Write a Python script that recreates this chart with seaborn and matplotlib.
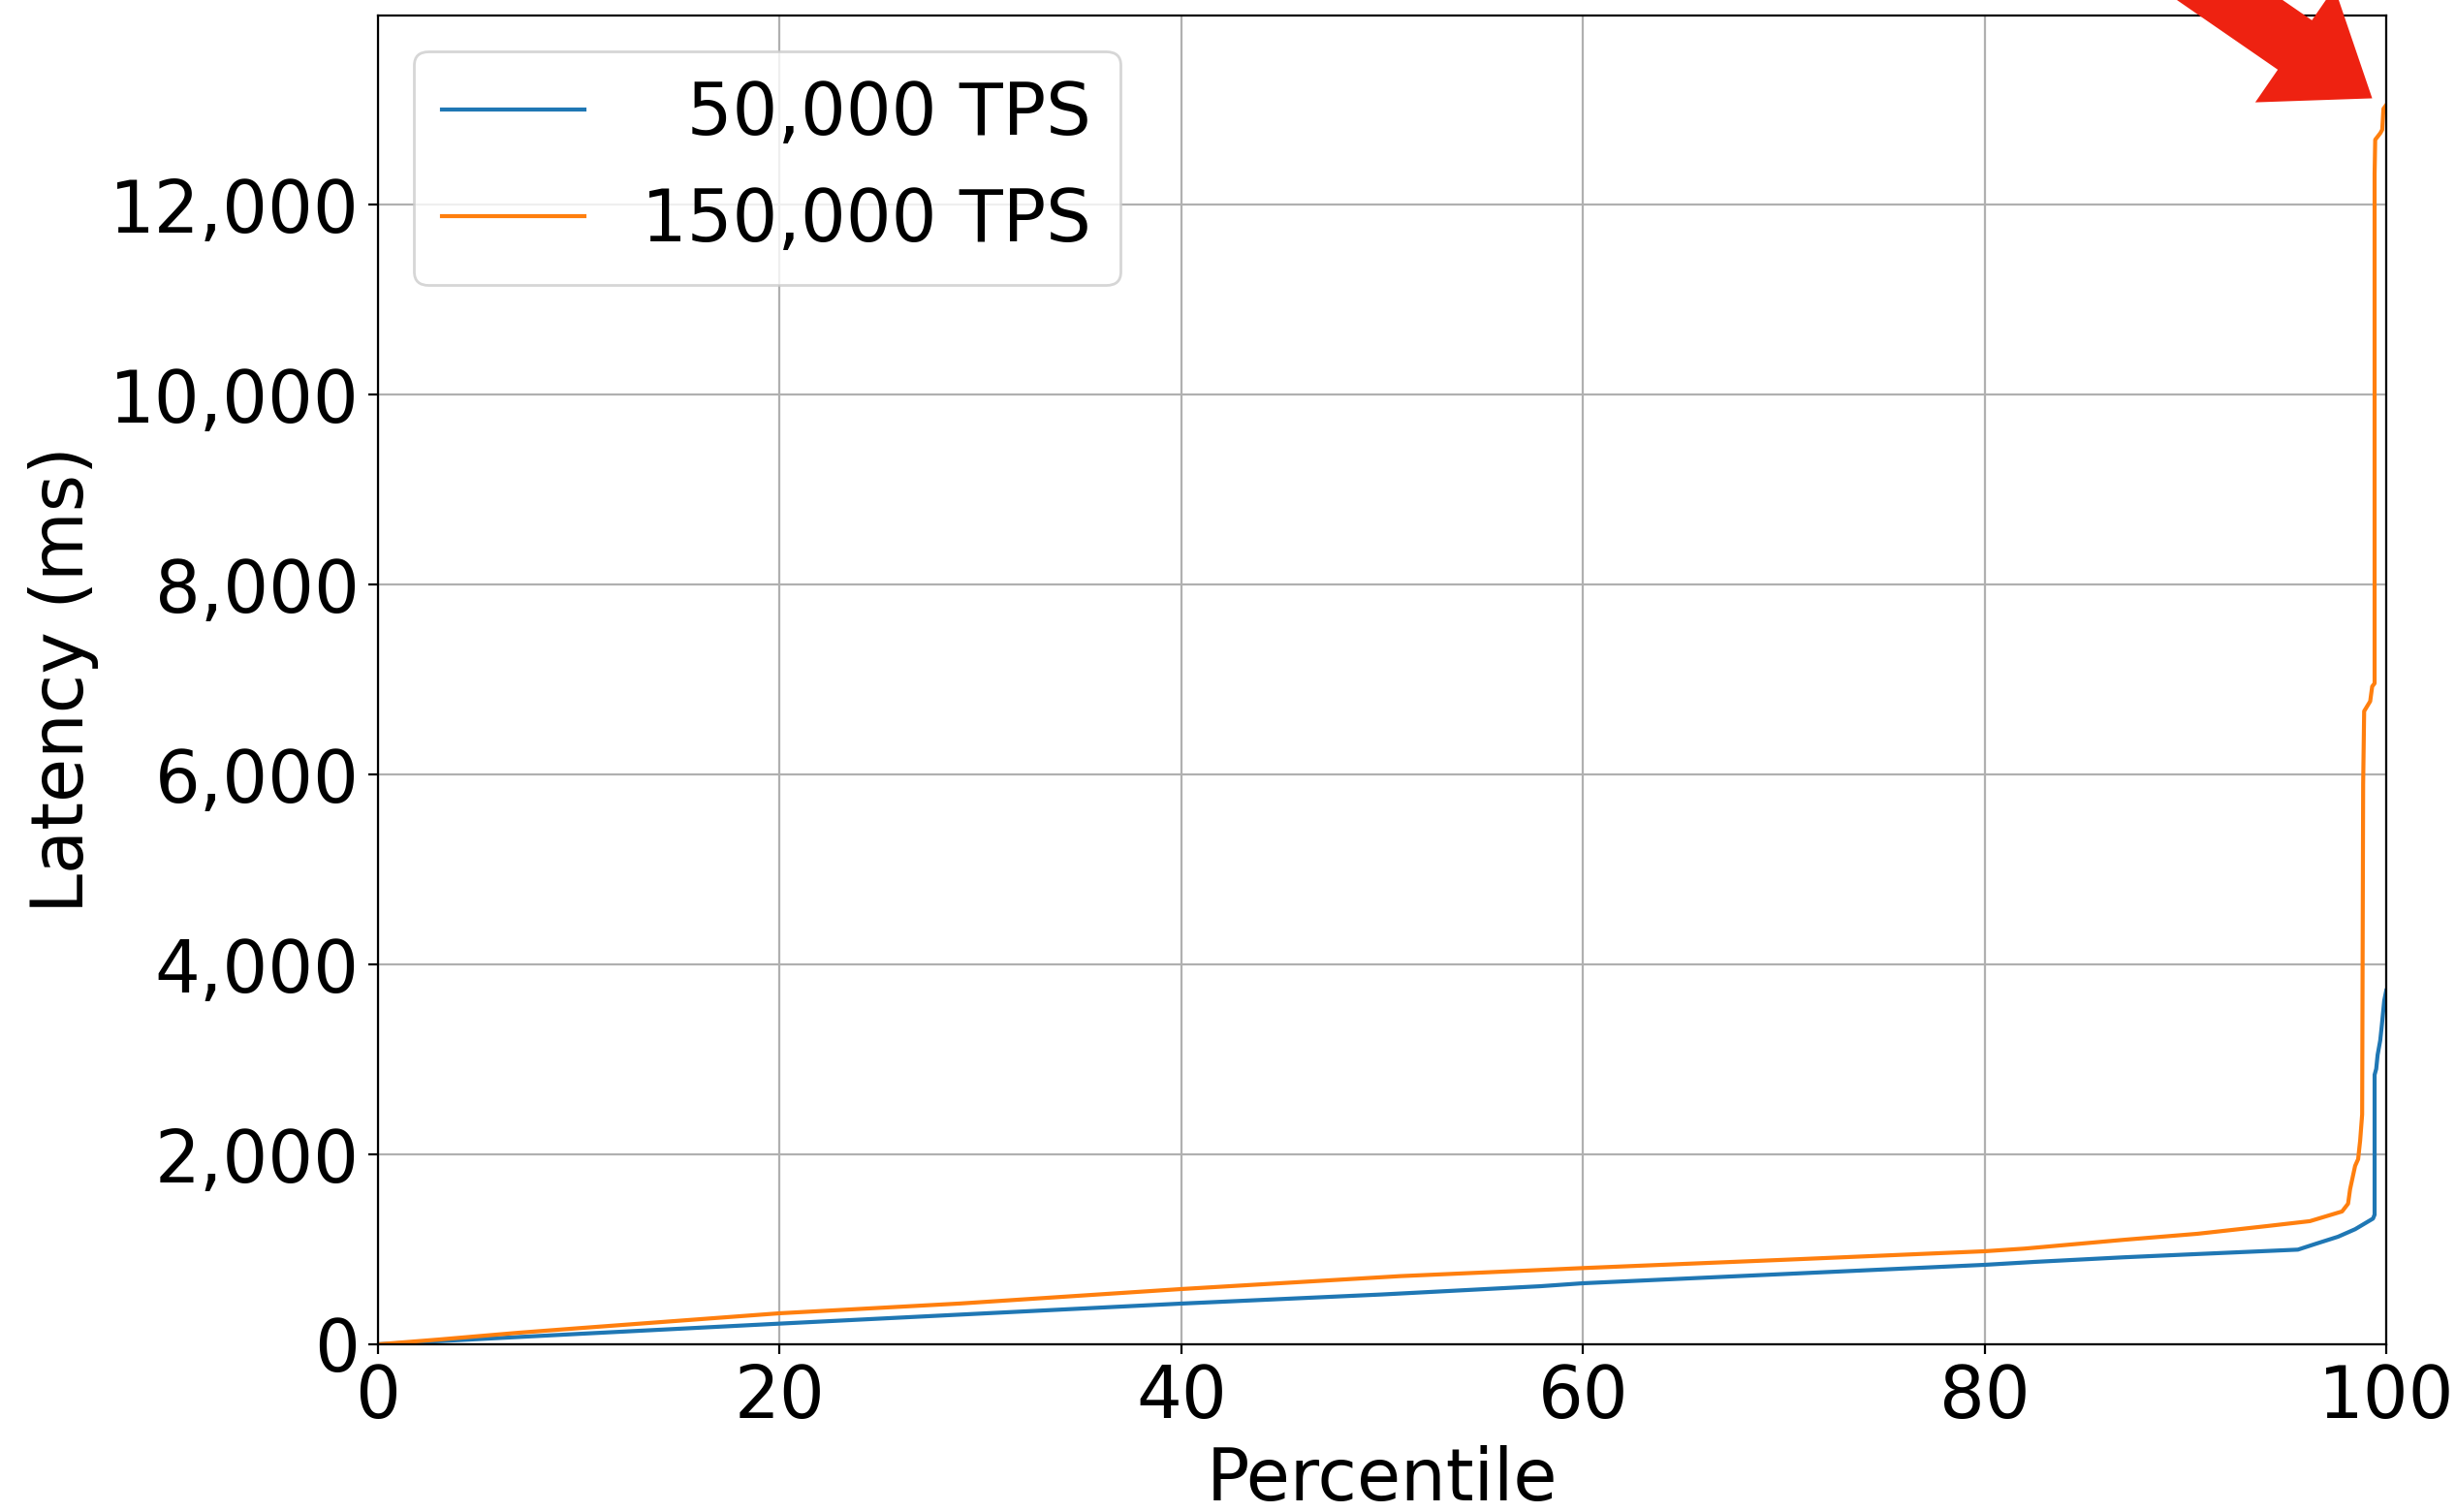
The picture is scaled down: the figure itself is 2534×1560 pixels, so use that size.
import matplotlib
matplotlib.use("Agg")
import matplotlib.pyplot as plt
from matplotlib.ticker import FuncFormatter
import seaborn as sns

# Latency percentiles (ms) for two load levels
pct_50k = [0, 10, 20, 29, 40, 50, 57.9, 60, 70, 80, 82.5, 86.9, 90, 95.6,
           96.5, 97.6, 98.45, 99.34, 99.42, 99.42, 99.5, 99.57, 99.7, 99.78,
           99.9, 100]
lat_50k = [0, 110, 218, 313, 429, 525, 612, 643, 740, 837, 868, 916, 945, 997,
           1059, 1133, 1212, 1324, 1365, 2838, 2900, 3047, 3200, 3359,
           3620, 3724]

pct_150k = [0, 3, 7, 10, 20, 29, 40, 50.9, 57.9, 60, 70, 80, 82, 86.9, 90.6,
            94.1, 96.2, 97.8, 98.1, 98.2, 98.45, 98.6, 98.7, 98.8, 98.85,
            98.9, 99.2, 99.3, 99.42, 99.42, 99.45, 99.71, 99.8, 99.86, 100]
lat_150k = [0, 50, 122, 170, 327, 430, 582, 718, 783, 803, 890, 980, 1008, 1100,
            1164, 1246, 1297, 1399, 1481, 1634, 1879, 1950, 2145, 2420, 5900,
            6667, 6771, 6927, 6960, 12326, 12684, 12755, 12790, 13010, 13050]

series_labels = ["  50,000 TPS", "150,000 TPS"]
series_colors = ["#1f77b4", "#ff7f0e"]

x_ticks = [0, 20, 40, 60, 80, 100]
y_ticks = [0, 2000, 4000, 6000, 8000, 10000, 12000]

FS = 26.5

fig = plt.figure(figsize=(12.67, 7.8), dpi=200)
ax = fig.add_axes([0.1539, 0.1109, 0.8177, 0.8789])

for xs, ys, lab, col in zip([pct_50k, pct_150k], [lat_50k, lat_150k],
                            series_labels, series_colors):
    sns.lineplot(x=xs, y=ys, ax=ax, label=lab, color=col, linewidth=1.5,
                 estimator=None, sort=False)

ax.set_xlim(0, 100)
ax.set_ylim(0, 13993)
ax.set_xticks(x_ticks)
ax.set_yticks(y_ticks)
ax.yaxis.set_major_formatter(FuncFormatter(lambda v, p: f"{v:,.0f}"))
ax.tick_params(labelsize=FS)
ax.grid(True, color="#b0b0b0", linewidth=0.8)
ax.set_axisbelow(True)
ax.set_xlabel("Percentile", fontsize=FS)
ax.set_ylabel("Latency (ms)", fontsize=FS)

ax.legend(loc="upper left", fontsize=FS)

# Red pointer toward the tail of the 150,000 TPS curve
ax.annotate("", xy=(99.3, 13120), xycoords="data",
            xytext=(0.8358, 1.0808), textcoords="figure fraction",
            arrowprops=dict(arrowstyle="simple,head_length=3.49,head_width=5.18,tail_width=2.23",
                            color="#ee2211", mutation_scale=10,
                            shrinkA=0, shrinkB=0, linewidth=0),
            annotation_clip=False)

fig.savefig("out.png", dpi=200)
